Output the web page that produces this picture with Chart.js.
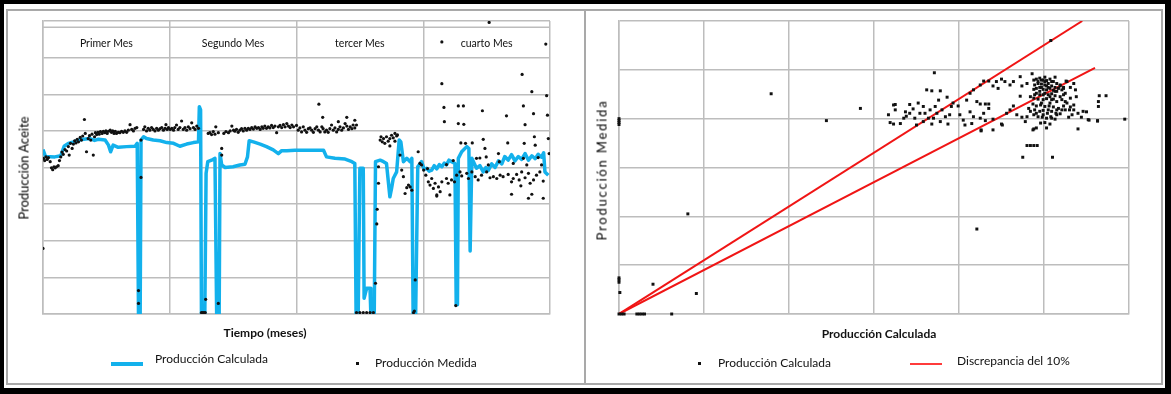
<!DOCTYPE html>
<html lang="es">
<head>
<meta charset="utf-8">
<title>Producción de aceite: calculada vs medida</title>
<script src="https://cdn.jsdelivr.net/npm/chart.js@4.4.1/dist/chart.umd.min.js"></script>
<style>
  html, body { margin: 0; padding: 0; background: #fff; }
  #lienzo { position: relative; width: 1171px; height: 394px; overflow: hidden;
            font-family: Lato, "Open Sans", sans-serif; color: #111; }
  .marco { position: absolute; inset: 0; box-sizing: border-box;
           border: solid #000; border-width: 4px 6px 6px 4px; }
  .panel { position: absolute; top: 9px; height: 376px; box-sizing: border-box;
           border: 2px solid #a9a9a9; }
  #panelTiempo { left: 6px; width: 580px; }
  #panelDispersion { left: 584px; width: 579px; }
  .grafico { position: absolute; top: 0; height: 394px; }
  #cajaTiempo { left: 0; width: 586px; }
  #cajaDispersion { left: 586px; width: 585px; }
  .texto { position: absolute; white-space: nowrap; font-size: 12px; line-height: 12px; }
  .eje-x { font-weight: bold; transform: translateX(-50%); }
  .eje-y { font-size: 13px; line-height: 13px; color: #000; transform: translate(-50%, -50%) rotate(-90deg); }
  .muestra { position: absolute; }
</style>
</head>
<body>
<div id="lienzo">
  <div class="marco"></div>
  <div class="panel" id="panelTiempo"></div>
  <div class="panel" id="panelDispersion"></div>

  <div class="grafico" id="cajaTiempo"><canvas id="graficoTiempo"></canvas></div>
  <div class="grafico" id="cajaDispersion"><canvas id="graficoDispersion"></canvas></div>

  <!-- títulos de ejes -->
  <div class="texto eje-y" style="left:24px; top:168px;">Producción Aceite</div>
  <div class="texto eje-x" style="left:265px; top:327px;">Tiempo (meses)</div>
  <div class="texto eje-y" style="left:602px; top:170px; letter-spacing:1.8px;">Producción Medida</div>
  <div class="texto eje-x" style="left:879px; top:328px;">Producción Calculada</div>

  <!-- leyendas -->
  <div class="muestra" style="left:111px; top:362px; width:32px; height:4px; background:#13b1ec;"></div>
  <div class="texto" style="left:155px; top:353px;">Producción Calculada</div>
  <div class="muestra" style="left:356px; top:362px; width:3px; height:3px; background:#111;"></div>
  <div class="texto" style="left:375px; top:357px;">Producción Medida</div>

  <div class="muestra" style="left:698px; top:362px; width:3px; height:3px; background:#111;"></div>
  <div class="texto" style="left:718px; top:357px;">Producción Calculada</div>
  <div class="muestra" style="left:910px; top:363px; width:32px; height:2px; background:#ff3b3b;"></div>
  <div class="texto" style="left:957px; top:355px;">Discrepancia del 10%</div>
</div>

<script>
// --- Datos ---
const meses = ['Primer Mes', 'Segundo Mes', 'tercer Mes', 'cuarto Mes'];

// Producción calculada (línea azul), día vs producción
const diasCalculada = [
    0, 0.6, 2.8, 4.2, 5.0, 6.0, 7.2, 8.4, 9.6, 11.1,
    12.2, 13.1, 14.7, 15.5, 16.0, 16.6, 17.8, 19.8, 21.8, 22.3,
    22.6, 23.0, 23.2, 23.8, 24.5, 26.1, 27.7, 29.3, 30.9, 32.4,
    34.0, 35.6, 36.8, 37.0, 37.3, 37.5, 38.3, 38.6, 39.0, 39.9,
    40.7, 41.1, 41.7, 41.9, 42.3, 43.1, 45.0, 46.6, 47.8, 48.4,
    48.8, 49.8, 51.4, 52.9, 54.5, 55.7, 56.5, 57.7, 59.6, 66.4,
    67.1, 69.1, 71.5, 73.1, 73.8, 74.1, 74.6, 75.0, 75.8, 76.0,
    76.6, 77.4, 77.6, 78.4, 78.7, 79.8, 80.6, 81.3, 82.1, 82.5,
    82.9, 83.7, 84.3, 84.7, 85.3, 86.1, 86.9, 87.3, 87.6, 88.2,
    88.7, 89.6, 90.2, 90.8, 91.4, 92.0, 92.6, 93.2, 93.8, 94.4,
    95.0, 95.5, 96.1, 96.7, 97.5, 97.8, 98.1, 98.3, 99.1, 100.3,
    100.8, 101.1, 101.5, 102.6, 103.4, 104.2, 104.8, 105.4, 106.2, 107.0,
    107.8, 108.6, 109.3, 110.1, 110.9, 111.7, 112.5, 113.3, 114.1, 114.9,
    115.7, 116.5, 117.2, 118.0, 118.5, 118.8, 119.6
];
const prodCalculada = [
    449, 430, 429, 432, 458, 466, 470, 475, 477, 479,
    474, 477, 475, 461, 443, 461, 455, 457, 458, 466,
    0, 0, 475, 484, 479, 475, 473, 468, 466, 458,
    464, 468, 470, 566, 557, 0, 0, 384, 416, 420,
    425, 0, 0, 438, 407, 400, 402, 407, 409, 429,
    473, 470, 464, 457, 448, 438, 446, 446, 447, 447,
    429, 425, 423, 416, 411, 0, 0, 398, 398, 43,
    70, 70, 0, 0, 416, 420, 416, 411, 320, 343,
    370, 388, 475, 470, 416, 425, 416, 425, 0, 0,
    402, 416, 395, 398, 390, 393, 405, 396, 408, 402,
    412, 407, 420, 416, 411, 25, 25, 425, 443, 457,
    452, 172, 425, 398, 405, 388, 400, 392, 410, 400,
    418, 410, 430, 420, 435, 418, 430, 422, 438, 420,
    432, 424, 436, 428, 440, 388, 379
];

// Producción medida (puntos negros)
const diasMedida = [
    0.0, 0.1, 0.4, 0.7, 1.0, 1.3, 1.7, 2.0, 2.3, 2.6,
    2.9, 3.2, 3.6, 3.9, 4.2, 4.5, 4.8, 5.2, 5.6, 6.0,
    6.2, 6.5, 6.9, 7.2, 7.5, 7.8, 8.1, 8.4, 8.8, 9.1,
    9.4, 9.8, 10.0, 10.3, 10.7, 11.0, 11.3, 11.6, 11.9, 12.2,
    12.4, 12.7, 13.0, 13.3, 13.6, 14.0, 14.3, 14.6, 14.9, 15.2,
    15.5, 15.9, 16.2, 16.5, 16.8, 17.1, 17.4, 17.8, 18.2, 18.6,
    19.0, 19.4, 19.8, 20.2, 20.6, 21.0, 21.4, 21.8, 22.2, 22.6,
    22.6, 23.2, 23.2, 23.8, 24.1, 24.5, 24.9, 25.3, 25.7, 26.1,
    26.5, 26.9, 27.3, 27.7, 28.1, 28.5, 28.9, 29.1, 29.4, 29.7,
    30.1, 30.5, 30.9, 31.2, 31.6, 32.0, 32.4, 32.8, 33.2, 33.6,
    34.0, 34.4, 34.8, 35.2, 35.6, 36.0, 36.4, 36.8, 37.5, 37.8,
    38.1, 38.4, 38.5, 39.1, 39.5, 39.9, 40.3, 40.7, 40.9, 41.5,
    41.5, 42.3, 42.3, 42.8, 43.3, 43.9, 44.3, 44.7, 45.1, 45.4,
    45.8, 46.2, 46.6, 47.0, 47.4, 47.8, 48.2, 48.6, 49.0, 49.4,
    49.8, 50.2, 50.6, 51.0, 51.4, 51.8, 52.1, 52.5, 52.9, 53.3,
    53.7, 54.1, 54.5, 54.9, 55.3, 55.7, 56.1, 56.5, 56.9, 57.3,
    57.7, 58.1, 58.5, 58.9, 59.3, 60.0, 60.4, 60.8, 61.2, 61.6,
    62.0, 62.4, 62.8, 63.2, 63.6, 64.0, 64.4, 64.8, 65.2, 65.3,
    65.6, 66.0, 66.2, 66.3, 66.7, 67.1, 67.5, 67.9, 68.3, 68.7,
    69.1, 69.5, 69.9, 69.9, 70.3, 70.7, 71.1, 71.5, 71.9, 71.9,
    72.3, 72.7, 73.1, 73.4, 73.8, 73.8, 74.2, 74.2, 75.0, 75.8,
    76.6, 77.4, 78.2, 78.7, 79.0, 79.1, 79.4, 79.4, 79.8, 80.0,
    80.3, 80.6, 80.9, 81.3, 81.7, 82.1, 82.5, 82.9, 83.3, 83.7,
    83.9, 83.3, 82.1, 84.5, 84.9, 85.3, 85.7, 86.1, 86.5, 86.9,
    87.3, 87.7, 87.9, 88.1, 88.8, 89.2, 89.6, 90.1, 90.6, 91.0,
    91.2, 91.6, 92.0, 92.4, 92.8, 93.2, 93.6, 94.0, 94.4, 95.5,
    95.9, 96.3, 96.7, 97.4, 97.7, 97.9, 98.7, 99.1, 100.3, 100.7,
    101.5, 102.3, 103.0, 103.8, 105.0, 105.8, 106.6, 107.4, 108.2, 108.9,
    110.1, 110.9, 110.9, 111.3, 112.1, 112.7, 113.1, 113.3, 114.1, 114.9,
    114.9, 115.3, 115.7, 116.1, 116.8, 117.6, 118.4, 118.4, 93.2, 94.4,
    105.6, 119.0, 94.4, 113.4, 115.7, 119.2, 94.9, 98.3, 99.5, 104.0,
    109.7, 113.7, 116.1, 119.4, 95.0, 98.3, 99.6, 114.1, 113.9, 116.3,
    119.6, 98.9, 100.0, 101.6, 104.2, 104.6, 110.0, 95.5, 97.1, 104.9,
    105.4, 116.5, 117.2, 111.3, 114.5, 118.0, 102.6, 103.4, 107.8, 108.0,
    113.7, 119.8
];
const prodMedida = [
    179, 425, 419, 429, 422, 427, 416, 399, 394, 402,
    399, 402, 405, 419, 429, 442, 436, 449, 445, 457,
    434, 466, 452, 464, 473, 467, 477, 470, 482, 475,
    486, 531, 493, 443, 479, 487, 475, 491, 434, 484,
    495, 490, 496, 491, 498, 493, 499, 495, 500, 493,
    499, 502, 496, 500, 493, 499, 493, 496, 495, 499,
    496, 500, 496, 502, 517, 504, 500, 507, 509, 64,
    29, 475, 373, 504, 511, 500, 507, 502, 509, 504,
    500, 507, 502, 506, 509, 502, 507, 517, 504, 509,
    504, 507, 502, 509, 516, 504, 509, 527, 504, 509,
    502, 511, 506, 522, 509, 504, 513, 507, 4, 4,
    4, 4, 40, 493, 495, 490, 498, 491, 511, 29,
    495, 452, 434, 493, 498, 495, 500, 513, 502, 499,
    504, 496, 502, 506, 500, 507, 502, 507, 504, 509,
    505, 511, 507, 509, 504, 511, 507, 513, 507, 511,
    508, 515, 509, 513, 495, 511, 515, 509, 517, 511,
    520, 513, 509, 516, 511, 515, 502, 508, 497, 511,
    502, 496, 506, 508, 502, 496, 506, 511, 502, 573,
    497, 511, 537, 506, 497, 502, 496, 506, 516, 502,
    508, 497, 525, 504, 511, 502, 508, 520, 537, 513,
    504, 511, 506, 516, 529, 508, 516, 4, 4, 4,
    4, 4, 4, 84, 246, 286, 357, 402, 475, 484,
    470, 479, 466, 484, 472, 479, 488, 481, 493, 486,
    489, 472, 459, 434, 393, 375, 329, 345, 352, 347,
    338, 4, 8, 93, 443, 411, 407, 393, 379, 397,
    361, 352, 370, 343, 357, 325, 347, 334, 361, 370,
    357, 325, 366, 361, 23, 379, 388, 377, 384, 370,
    388, 375, 366, 379, 388, 372, 375, 370, 379, 375,
    381, 361, 327, 370, 381, 366, 350, 388, 372, 384,
    316, 357, 327, 366, 379, 388, 363, 316, 322, 743,
    796, 737, 629, 654, 607, 596, 564, 568, 568, 555,
    541, 568, 547, 543, 525, 520, 518, 517, 466, 484,
    479, 467, 466, 467, 477, 452, 467, 408, 419, 429,
    407, 461, 427, 411, 407, 407, 425, 426, 438, 416,
    425, 438
];

// Dispersión: producción calculada (x) contra medida (y)
const dispCalculada = [
    0, 0, 0, 0, 0, 0, 0, 1, 40, 91,
    62, 0, 3, 6, 21, 24, 27, 30, 81, 179,
    244, 284, 421, 508, 371, 362, 368, 378, 386, 325,
    325, 317, 323, 331, 342, 337, 348, 350, 358, 360,
    364, 366, 372, 374, 376, 380, 384, 358, 368, 389,
    393, 399, 401, 405, 407, 346, 335, 354, 370, 378,
    391, 342, 387, 319, 338, 352, 323, 413, 417, 425,
    429, 435, 440, 446, 444, 450, 454, 460, 464, 472,
    474, 480, 486, 421, 425, 431, 435, 435, 429, 425,
    431, 440, 450, 460, 464, 456, 468, 474, 478, 472,
    417, 415, 440, 426, 413, 409, 488, 491, 495, 499,
    503, 507, 511, 515, 519, 523, 489, 493, 497, 501,
    505, 509, 513, 517, 521, 488, 491, 495, 499, 503,
    507, 511, 515, 525, 491, 495, 501, 505, 509, 513,
    519, 527, 531, 484, 488, 493, 499, 503, 509, 515,
    521, 527, 487, 491, 496, 501, 506, 511, 517, 523,
    531, 489, 495, 499, 504, 509, 514, 519, 525, 535,
    493, 498, 503, 508, 513, 488, 484, 480, 482, 496,
    501, 507, 491, 488, 503, 497, 501, 513, 535, 537,
    538, 531, 533, 546, 540, 530, 552, 493, 497, 505,
    509, 501, 489, 507, 513, 499, 503, 495, 511, 497,
    507, 515, 505, 499, 491, 509, 515, 521, 525, 523,
    565, 573, 564, 564, 595, 563, 553, 540, 535, 550,
    544, 529, 526, 523, 519, 480, 484, 488, 492, 475,
    510, 487, 426, 451, 563
];
const dispMedida = [
    388, 392, 396, 400, 65, 70, 74, 44, 61, 42,
    0, 0, 0, 0, 0, 0, 0, 0, 205, 451,
    396, 421, 174, 560, 494, 459, 457, 457, 444, 429,
    418, 408, 389, 390, 429, 414, 401, 387, 425, 411,
    401, 418, 425, 411, 438, 418, 404, 394, 389, 408,
    432, 426, 408, 397, 387, 420, 401, 411, 401, 394,
    425, 411, 389, 392, 405, 432, 428, 452, 459, 469,
    477, 477, 467, 462, 476, 481, 476, 469, 476, 486,
    467, 472, 492, 435, 430, 430, 430, 421, 411, 401,
    396, 399, 389, 418, 426, 411, 408, 403, 394, 446,
    404, 390, 377, 377, 414, 438, 479, 481, 483, 479,
    478, 481, 476, 472, 469, 464, 469, 472, 471, 469,
    472, 467, 464, 462, 459, 460, 462, 464, 460, 459,
    462, 458, 456, 452, 452, 449, 452, 449, 451, 447,
    445, 476, 464, 445, 442, 440, 439, 441, 439, 435,
    439, 432, 430, 426, 428, 425, 426, 424, 421, 426,
    424, 418, 415, 417, 411, 415, 411, 410, 418, 418,
    404, 403, 401, 404, 399, 408, 415, 404, 421, 391,
    392, 389, 381, 379, 381, 479, 485, 485, 472, 459,
    445, 442, 408, 415, 411, 418, 398, 476, 464, 464,
    476, 476, 449, 445, 456, 449, 467, 456, 440, 432,
    432, 418, 418, 408, 411, 401, 408, 418, 435, 449,
    447, 447, 435, 425, 399, 396, 397, 379, 428, 414,
    403, 403, 477, 462, 467, 345, 345, 345, 345, 321,
    321, 377, 375, 387, 395
];

// Rectas de discrepancia del 10 % (+10 % y -10 %)
const discrepanciaSupX = [0, 545];
const discrepanciaSupY = [0, 600];
const discrepanciaInfX = [0, 560];
const discrepanciaInfY = [0, 504];

// --- Estilo común ---
const COLOR_REJILLA = '#bdbdbd';
const AZUL = '#13b1ec';
const ROJO = '#f01515';

Chart.defaults.font.family = 'Lato, "Open Sans", sans-serif';
Chart.defaults.color = '#111';

function aPuntos(xs, ys) {
    return xs.map((x, i) => ({ x: x, y: ys[i] }));
}

function ejeSinEtiquetas(max, paso) {
    return {
        type: 'linear',
        min: 0,
        max: max,
        ticks: { display: false, stepSize: paso },
        grid: { color: COLOR_REJILLA, lineWidth: 1.5, drawTicks: false },
        border: { color: COLOR_REJILLA, width: 1.5 }
    };
}

// Banda superior con el nombre de cada mes
const cabeceraMeses = {
    id: 'cabeceraMeses',
    beforeDatasetsDraw(chart) {
        const { ctx, chartArea, scales } = chart;
        const yLinea = scales.y.getPixelForValue(783);
        ctx.save();
        ctx.strokeStyle = COLOR_REJILLA;
        ctx.lineWidth = 1.5;
        ctx.beginPath();
        ctx.moveTo(chartArea.left, yLinea);
        ctx.lineTo(chartArea.right, yLinea);
        ctx.stroke();
        ctx.font = '10.5px Lato';
        ctx.fillStyle = '#111';
        ctx.textAlign = 'center';
        ctx.textBaseline = 'alphabetic';
        meses.forEach((mes, i) => {
            ctx.fillText(mes, scales.x.getPixelForValue(i * 30 + 15), scales.y.getPixelForValue(730));
        });
        ctx.restore();
    }
};

function graficoTiempo() {
    new Chart(document.getElementById('graficoTiempo'), {
        type: 'scatter',
        data: {
            datasets: [{
                label: 'Producción Medida',
                data: aPuntos(diasMedida, prodMedida),
                pointRadius: 1.6,
                pointBorderWidth: 0,
                pointBackgroundColor: '#111',
                order: 0
            }, {
                label: 'Producción Calculada',
                data: aPuntos(diasCalculada, prodCalculada),
                showLine: true,
                borderColor: AZUL,
                borderWidth: 3.5,
                borderJoinStyle: 'round',
                pointRadius: 0,
                order: 1
            }]
        },
        options: {
            responsive: true,
            maintainAspectRatio: false,
            animation: false,
            events: [],
            layout: { padding: { left: 43, top: 21, right: 36, bottom: 80 } },
            plugins: { legend: { display: false }, tooltip: { enabled: false } },
            scales: {
                x: ejeSinEtiquetas(120, 30),
                y: ejeSinEtiquetas(800, 100)
            }
        },
        plugins: [cabeceraMeses]
    });
}

function graficoDispersion() {
    const recta = (xs, ys) => ({
        label: 'Discrepancia del 10%',
        data: aPuntos(xs, ys),
        showLine: true,
        borderColor: ROJO,
        borderWidth: 2,
        pointRadius: 0,
        order: 1
    });
    new Chart(document.getElementById('graficoDispersion'), {
        type: 'scatter',
        data: {
            datasets: [{
                label: 'Producción Calculada',
                data: aPuntos(dispCalculada, dispMedida),
                pointStyle: 'rect',
                pointRadius: 2.1,
                pointBorderWidth: 0,
                pointBackgroundColor: '#111',
                clip: false,
                order: 0
            },
            recta(discrepanciaSupX, discrepanciaSupY),
            recta(discrepanciaInfX, discrepanciaInfY)]
        },
        options: {
            responsive: true,
            maintainAspectRatio: false,
            animation: false,
            events: [],
            layout: { padding: { left: 33, top: 21, right: 42, bottom: 80 } },
            plugins: { legend: { display: false }, tooltip: { enabled: false } },
            scales: {
                x: ejeSinEtiquetas(600, 100),
                y: ejeSinEtiquetas(600, 100)
            }
        }
    });
}

graficoTiempo();
graficoDispersion();
</script>
</body>
</html>
